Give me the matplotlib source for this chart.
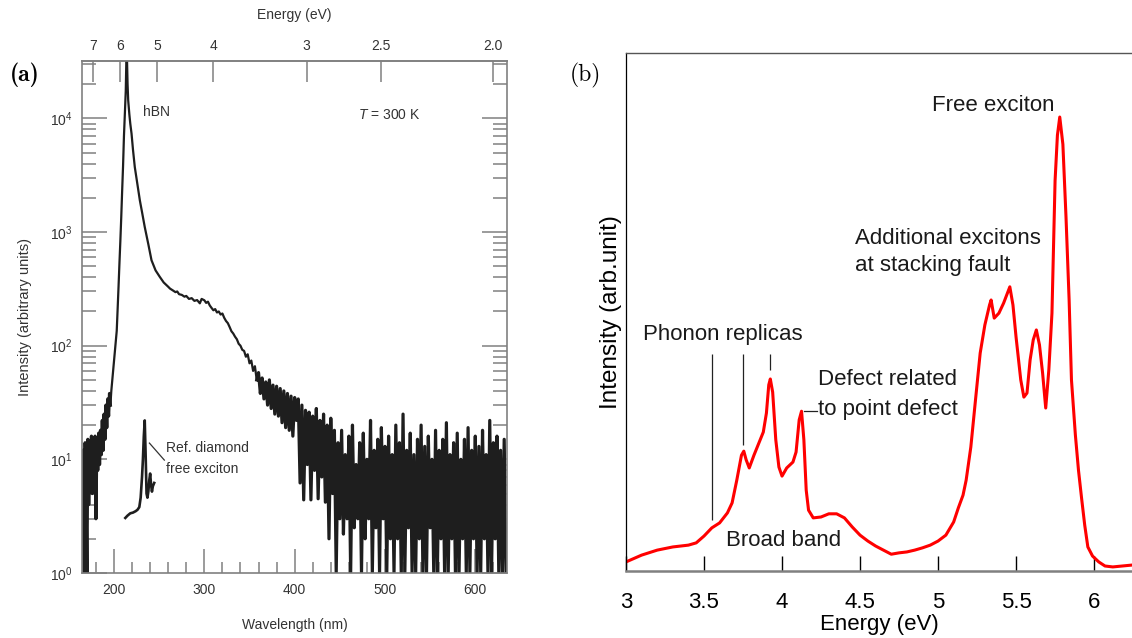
import matplotlib
matplotlib.use("Agg")
import matplotlib.pyplot as plt
import numpy as np
from matplotlib.ticker import MultipleLocator, NullLocator, NullFormatter, LogLocator

# ---------------- panel (a): hBN spectrum vs wavelength (log intensity)
hbn_wl_edge = [164.5, 166, 167, 168, 169, 170, 171, 172, 173, 174, 175, 176, 177, 178,
               179, 180, 181, 182, 183, 184, 185, 186, 187, 188, 189, 190, 191, 192,
               193, 194, 195, 196]
hbn_int_edge = [12, 4, 1.0, 14, 5, 1.0, 15, 4, 13, 6, 16, 5, 14, 7,
                16, 3, 15, 8, 17, 9, 18, 11, 22, 12, 25, 15, 30, 19,
                34, 24, 38, 30]

hbn_wl_peak = [196, 197, 199, 201, 203, 204, 205, 206, 207, 208, 209, 210, 211, 212, 213,
               214, 215, 215.7, 217, 218, 219.4, 221, 223, 226, 228.6, 231, 234, 238,
               241.5, 246, 250.7, 255, 260]
hbn_int_peak = [30, 40, 60, 90, 135, 210, 330, 530, 830, 1350, 2300, 3800, 7000, 11000, 17500,
                45000, 20000, 14400, 10800, 9000, 7340, 5300, 3730, 2600, 1900, 1500, 1110, 780,
                565, 460, 403, 360, 330]

hbn_wl_shoulder = [260, 262, 265, 268, 270, 272, 275, 278, 280, 283, 286, 289, 292, 295, 297,
                   300, 302, 304, 306, 308, 310, 312, 314, 316, 318, 320, 322, 324, 326,
                   328, 330, 332, 334, 336, 338, 340, 342, 344, 346, 348, 350, 352, 354,
                   356, 358]
hbn_int_shoulder = [330, 318, 307, 296, 300, 284, 280, 270, 274, 258, 262, 248, 252, 236, 258,
                    251, 238, 244, 226, 215, 205, 210, 196, 200, 188, 192, 176, 165, 158,
                    146, 134, 128, 120, 114, 104, 100, 92, 90, 80, 84, 70, 74, 60,
                    66, 50]

hbn_wl_tail_a = [358, 360, 362, 364, 366, 368, 370, 372, 374, 376, 378, 380, 382, 384, 386,
                 388, 390, 392, 394, 396, 398, 400, 402, 404, 406, 408, 410, 412, 414,
                 416, 418, 420, 422, 424, 426, 428, 430, 432, 434, 436, 438, 440, 442, 444]
hbn_int_tail_a = [50, 58, 38, 52, 34, 48, 30, 50, 28, 45, 25, 44, 24, 42, 21,
                  40, 19, 38, 18, 36, 16, 35, 22, 34, 6.2, 30, 4.4, 27, 9,
                  26, 4.4, 24, 8, 28, 4.5, 22, 7, 25, 4.2, 20, 2.0, 23, 5, 18]

hbn_wl_tail_b = [444, 446, 448, 450, 452, 454, 456, 458, 460, 462, 464, 466, 468, 470, 472,
                 474, 476, 478, 480, 482, 484, 486, 488, 490, 492, 494, 496, 498, 500,
                 502, 504, 506, 508, 510, 512, 514, 516, 518, 520, 522, 524, 526, 528,
                 530, 532, 534, 536, 538, 540, 542, 544, 546, 548, 550, 552, 554, 556,
                 558, 560, 562, 564, 566, 568, 570, 572, 574, 576, 578, 580, 582, 584,
                 586, 588, 590, 592, 594, 596, 598, 600, 602, 604, 606, 608, 610, 612,
                 614, 616, 618, 620, 622, 624, 626, 628, 630, 632, 634]
hbn_int_tail_b = [18, 1.0, 14, 3, 18, 2.2, 11, 3, 16, 1.0, 20, 2.5, 9, 3, 14,
                  1.0, 17, 2, 10, 3, 22, 1.0, 12, 2.5, 15, 1.0, 19, 3, 13,
                  1.0, 16, 2, 11, 1.0, 20, 2, 14, 1.0, 25, 1.0, 12, 2.5, 17,
                  1.0, 11, 1.0, 15, 2, 20, 1.0, 13, 1.0, 16, 2.5, 10, 1.0, 18,
                  1.0, 12, 2, 15, 1.0, 21, 1.0, 11, 2, 14, 1.0, 17, 1.0, 10,
                  2, 15, 1.0, 19, 1.0, 12, 2, 16, 1.0, 13, 1.0, 18, 2, 11,
                  1.0, 22, 1.0, 14, 2, 16, 1.0, 12, 1.0, 15, 1.0]

diamond_wl = [212.5, 215, 218, 221, 224, 226, 228, 229.5, 231, 232, 233, 234, 235, 236,
              237, 238, 239, 240, 241, 242, 243, 244.5]
diamond_int = [3.05, 3.2, 3.35, 3.4, 3.5, 3.6, 3.8, 4.6, 7.0, 10.0, 16.0, 22.0, 11.0, 5.0,
               4.6, 5.2, 6.5, 7.5, 6.0, 5.2, 5.8, 6.2]

wl_ticks = [200, 300, 400, 500, 600]
ev_ticks = [7, 6, 5, 4, 3, 2.5, 2.0]
ev_tick_labels = ["7", "6", "5", "4", "3", "2.5", "2.0"]

# ---------------- panel (b): CL spectrum vs energy (linear, arb. units)
cl_energy = [3.00, 3.10, 3.20, 3.30, 3.40, 3.45, 3.50, 3.55, 3.60, 3.65, 3.68, 3.71,
             3.74, 3.755, 3.77, 3.79, 3.82, 3.86, 3.88, 3.90, 3.915, 3.925, 3.94, 3.96,
             3.98, 4.00, 4.03, 4.07, 4.09, 4.11, 4.125, 4.14, 4.155, 4.17, 4.20, 4.25,
             4.30, 4.35, 4.40, 4.45, 4.50, 4.55, 4.60, 4.65, 4.70, 4.75, 4.80, 4.85,
             4.90, 4.95, 5.00, 5.05, 5.10, 5.13, 5.16, 5.18, 5.21, 5.24, 5.27, 5.30,
             5.33, 5.34, 5.36, 5.39, 5.42, 5.44, 5.46, 5.48, 5.50, 5.53, 5.55, 5.57,
             5.59, 5.61, 5.63, 5.65, 5.67, 5.69, 5.71, 5.73, 5.75, 5.765, 5.78, 5.80,
             5.82, 5.84, 5.855, 5.88, 5.90, 5.92, 5.94, 5.96, 5.99, 6.03, 6.07, 6.12,
             6.18, 6.24]
cl_intensity = [0.020, 0.035, 0.046, 0.053, 0.057, 0.062, 0.077, 0.095, 0.106, 0.128, 0.150, 0.200,
                0.255, 0.264, 0.245, 0.227, 0.255, 0.289, 0.306, 0.348, 0.410, 0.423, 0.394, 0.289,
                0.229, 0.209, 0.227, 0.240, 0.262, 0.333, 0.352, 0.289, 0.178, 0.134, 0.117, 0.119,
                0.126, 0.126, 0.117, 0.097, 0.079, 0.066, 0.055, 0.046, 0.037, 0.040, 0.042, 0.046,
                0.051, 0.057, 0.066, 0.079, 0.108, 0.139, 0.167, 0.200, 0.273, 0.377, 0.480, 0.542,
                0.586, 0.597, 0.557, 0.568, 0.590, 0.608, 0.626, 0.586, 0.515, 0.421, 0.383, 0.392,
                0.465, 0.509, 0.531, 0.498, 0.436, 0.359, 0.443, 0.568, 0.860, 0.960, 1.000, 0.940,
                0.780, 0.597, 0.421, 0.300, 0.222, 0.160, 0.101, 0.053, 0.033, 0.020, 0.011, 0.009,
                0.011, 0.013]

energy_ticks = [3, 3.5, 4, 4.5, 5, 5.5, 6]
energy_tick_labels = ["3", "3.5", "4", "4.5", "5", "5.5", "6"]

SANS = ["Liberation Sans Narrow", "Liberation Sans", "DejaVu Sans"]
plt.rcParams["font.family"] = ["Liberation Sans", "DejaVu Sans"]
plt.rcParams["mathtext.fontset"] = "custom"
plt.rcParams["mathtext.rm"] = "Liberation Sans"
plt.rcParams["mathtext.it"] = "Liberation Sans:italic"

GREY = "#808080"
INK = "#333333"
SMALL = 10

fig = plt.figure(figsize=(11.32, 6.38), dpi=100)

# ---- (a)
ax_a = fig.add_axes([0.0724, 0.1019, 0.3754, 0.8025])
ax_a.plot(hbn_wl_edge, hbn_int_edge, color="#1e1e1e", lw=2.3)
ax_a.plot(hbn_wl_peak + hbn_wl_shoulder, hbn_int_peak + hbn_int_shoulder, color="#1e1e1e", lw=1.6)
ax_a.plot(hbn_wl_tail_a + hbn_wl_tail_b, hbn_int_tail_a + hbn_int_tail_b, color="#1e1e1e", lw=2.3)
ax_a.plot(diamond_wl, diamond_int, color="#1e1e1e", lw=1.9)

ax_a.set_yscale("log")
ax_a.set_xlim(164.5, 635)
ax_a.set_ylim(1, 3.2e4)
ax_a.set_xticks(wl_ticks)
ax_a.xaxis.set_minor_locator(MultipleLocator(20))
ax_a.yaxis.set_minor_locator(LogLocator(subs=np.arange(2, 10)))
ax_a.yaxis.set_minor_formatter(NullFormatter())

ax_a.tick_params(axis="x", which="major", direction="in", length=17, width=1.1, color=GREY,
                 labelsize=SMALL, labelcolor=INK, pad=7, top=False, labelfontfamily=SANS)
ax_a.tick_params(axis="x", which="minor", direction="in", length=8, width=1.1, color=GREY, top=False)
ax_a.tick_params(axis="y", which="major", direction="in", length=18, width=1.1, color=GREY,
                 left=True, right=True, labelsize=SMALL, labelcolor=INK, pad=7,
                 labelfontfamily=SANS)
ax_a.tick_params(axis="y", which="minor", direction="in", length=10, width=1.1, color=GREY,
                 left=True, right=True)
for sp in ax_a.spines.values():
    sp.set_color(GREY)
    sp.set_linewidth(1.2)

ax_a.set_xlabel("Wavelength (nm)", fontsize=SMALL, family=SANS, color=INK, labelpad=15)
ax_a.set_ylabel("Intensity (arbitrary units)", fontsize=SMALL + 0.5, family=SANS, color=INK,
                labelpad=13)


def to_ev(x):
    return 1239.84 / np.clip(x, 1e-9, None)


secax = ax_a.secondary_xaxis("top", functions=(to_ev, to_ev))
secax.set_xticks(ev_ticks, labels=ev_tick_labels)
secax.xaxis.set_minor_locator(NullLocator())
secax.tick_params(direction="in", length=15, width=1.1, color=GREY, labelsize=SMALL,
                  labelcolor=INK, pad=6, labelfontfamily=SANS)
secax.spines["top"].set_color(GREY)
secax.spines["top"].set_linewidth(1.2)
secax.set_xlabel("Energy (eV)", fontsize=SMALL, family=SANS, color=INK, labelpad=14)

ax_a.text(231.6, 11300, "hBN", fontsize=SMALL, family=SANS, color=INK, va="center")
ax_a.text(470, 10800, r"$T$ = 300 K", fontsize=SMALL, family=SANS, color=INK, va="center")
ax_a.plot([239.2, 255.7], [13.9, 9.85], color=INK, lw=0.9)
ax_a.text(257.9, 12.5, "Ref. diamond", fontsize=SMALL, family=SANS, color=INK, va="center")
ax_a.text(257.9, 8.2, "free exciton", fontsize=SMALL, family=SANS, color=INK, va="center")

fig.text(25 / 1132, 1 - 75 / 638, "(a)", family="cmb10", fontsize=17, ha="center", va="center")

# ---- (b)
ax_b = fig.add_axes([0.553, 0.105, 0.447, 0.8119])
ax_b.plot(cl_energy, cl_intensity, color="#ff0000", lw=2.2)
ax_b.set_xlim(3, 6.243)
ax_b.set_ylim(0, 1.141)
ax_b.set_xticks(energy_ticks, labels=energy_tick_labels)
ax_b.set_yticks([])
ax_b.tick_params(axis="x", direction="in", length=11, width=1.0, color="black",
                 labelsize=16, pad=15)
ax_b.spines["right"].set_visible(False)
ax_b.spines["left"].set_color("black")
ax_b.spines["left"].set_linewidth(0.9)
ax_b.spines["top"].set_color("#555555")
ax_b.spines["top"].set_linewidth(1.0)
ax_b.spines["bottom"].set_color(GREY)
ax_b.spines["bottom"].set_linewidth(1.8)
ax_b.set_xlabel("Energy (eV)", fontsize=16, labelpad=1)
ax_b.set_ylabel("Intensity (arb.unit)", fontsize=17.5, labelpad=3)

txt = dict(fontsize=16, color="#1a1a1a", va="center")
ax_b.text(5.353, 1.026, "Free exciton", ha="center", **txt)
ax_b.text(4.468, 0.733, "Additional excitons", **txt)
ax_b.text(4.468, 0.674, "at stacking fault", **txt)
ax_b.text(3.62, 0.52, "Phonon replicas", ha="center", **txt)
ax_b.vlines([3.553, 3.75, 3.92], [0.112, 0.278, 0.443], 0.478, color="#222222", lw=0.9)
ax_b.text(4.231, 0.421, "Defect related", **txt)
ax_b.text(4.231, 0.355, "to point defect", **txt)
ax_b.plot([4.141, 4.222], [0.352, 0.352], color="#222222", lw=0.9)
ax_b.text(4.01, 0.068, "Broad band", ha="center", **txt)

fig.text(585 / 1132, 1 - 75 / 638, "(b)", family="cmr10", fontsize=17, ha="center", va="center")

fig.savefig("out.png", dpi=100)
